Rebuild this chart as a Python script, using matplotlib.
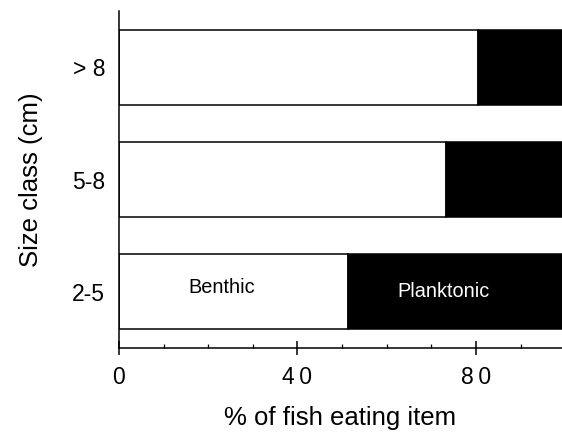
import numpy as np
import matplotlib
matplotlib.use("Agg")
import matplotlib.pyplot as plt
from matplotlib.ticker import MultipleLocator, FixedFormatter

plt.rcParams['font.family'] = ['Liberation Sans', 'DejaVu Sans']

# size classes from bottom to top, % of fish eating each item
size_class = ['2-5', '5-8', '> 8']
benthic = [51.3, 73.4, 80.4]
planktonic = [48.7, 26.6, 19.6]
xtick_vals = [0, 40, 80]
xtick_text = ['0', '4\u20090', '8\u20090']

fig = plt.figure(figsize=(5.62, 4.33), dpi=100)
ax = fig.add_axes([0.2117, 0.1963, 0.7883, 0.7783])

y = np.arange(len(size_class))
ax.barh(y, benthic, height=0.67, color='white', edgecolor='black', linewidth=1.1)
ax.barh(y, planktonic, left=benthic, height=0.67, color='black', edgecolor='black', linewidth=1.1)

ax.text(23.1, 0.04, 'Benthic', ha='center', va='center', fontsize=14.3)
ax.text(72.7, 0.0, 'Planktonic', ha='center', va='center', fontsize=14.3, color='white')

ax.set_xlim(0, 99.3)
ax.set_ylim(-0.5, 2.5)
ax.spines['top'].set_visible(False)
ax.spines['right'].set_visible(False)
ax.spines['left'].set_linewidth(1.1)
ax.spines['bottom'].set_linewidth(1.1)

ax.set_xticks(xtick_vals)
ax.xaxis.set_major_formatter(FixedFormatter(xtick_text))
ax.xaxis.set_minor_locator(MultipleLocator(10))
ax.tick_params(axis='x', which='major', direction='inout', length=10, width=1.1,
               labelsize=16.5, pad=8)
ax.tick_params(axis='x', which='minor', direction='in', length=3, width=0.9)

ax.set_yticks(y)
ax.set_yticklabels(size_class, fontsize=16.5)
ax.tick_params(axis='y', length=0, pad=10)

ax.set_xlabel('% of fish eating item', fontsize=18.5, labelpad=12)
ax.set_ylabel('Size class (cm)', fontsize=18.5, labelpad=21)

fig.savefig('out.png', dpi=100)
